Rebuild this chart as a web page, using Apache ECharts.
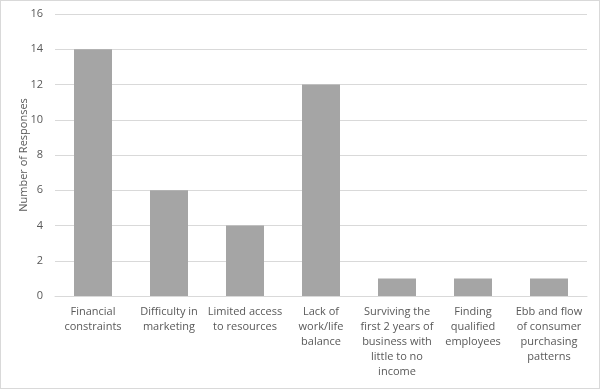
<!DOCTYPE html>
<html><head><meta charset="utf-8">
<script src="https://cdn.jsdelivr.net/npm/echarts@6/dist/echarts.min.js"></script>
<style>html,body{margin:0;padding:0;background:#fff}#c{width:600px;height:389px;box-sizing:border-box;border:1px solid #d9d9d9}</style>
</head><body><div id="c"></div>
<script>
const categories = [
  "Financial\nconstraints",
  "Difficulty in\nmarketing",
  "Limited access\nto resources",
  "Lack of\nwork/life\nbalance",
  "Surviving the\nfirst 2 years of\nbusiness with\nlittle to no\nincome",
  "Finding\nqualified\nemployees",
  "Ebb and flow\nof consumer\npurchasing\npatterns"
];
const responses = [14, 6, 4, 12, 1, 1, 1];
const yTicks = { min: 0, max: 16, interval: 2 };

const chart = echarts.init(document.getElementById('c'), null, {renderer: 'canvas'});
chart.setOption({
  animation: false,
  grid: { left: 54, right: 12, top: 13, bottom: 92 },
  xAxis: {
    type: 'category',
    data: categories,
    axisLine: { show: true, lineStyle: { color: '#d9d9d9', width: 1 } },
    axisTick: { show: false },
    axisLabel: { interval: 0, color: '#595959', fontFamily: 'Open Sans, sans-serif', fontSize: 11, lineHeight: 15, margin: 8 }
  },
  yAxis: {
    type: 'value',
    min: yTicks.min, max: yTicks.max, interval: yTicks.interval,
    name: 'Number of Responses',
    nameLocation: 'middle',
    nameGap: 26,
    nameMoveOverlap: false,
    nameTextStyle: { color: '#595959', fontFamily: 'Open Sans, sans-serif', fontSize: 11 },
    axisLine: { show: false },
    axisTick: { show: false },
    axisLabel: { color: '#595959', fontFamily: 'Open Sans, sans-serif', fontSize: 11, margin: 12 },
    splitLine: { lineStyle: { color: '#d9d9d9', width: 1 } }
  },
  series: [{
    type: 'bar',
    data: responses,
    barWidth: '50%',
    itemStyle: { color: '#a5a5a5' }
  }]
});
</script></body></html>
